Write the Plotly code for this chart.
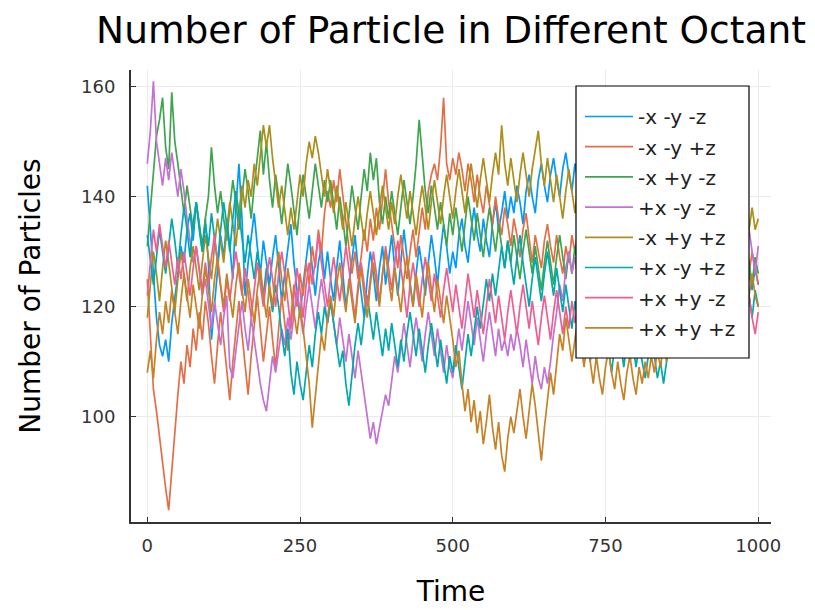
import numpy as np
import plotly.graph_objects as go

# Particle counts per octant, sampled every 5 time steps (t = 0 .. 1000)
time = np.arange(0, 1001, 5)

mxmymz = [142, 134, 126, 118, 113, 111, 114, 110, 117, 121, 126, 131, 128, 134, 137, 132, 139, 135, 130, 136,
          128, 114, 120, 127, 133, 129, 136, 131, 125, 138, 146, 136, 122, 128, 133, 137, 131, 126, 132, 128,
          124, 129, 133, 127, 121, 126, 131, 135, 128, 123, 118, 124, 129, 133, 127, 122, 128, 131, 125, 130,
          125, 121, 127, 132, 126, 120, 124, 129, 133, 127, 122, 118, 125, 130, 126, 121, 127, 131, 124, 129,
          133, 127, 122, 128, 134, 129, 124, 120, 126, 131, 127, 122, 128, 133, 129, 124, 130, 135, 131, 126,
          130, 127, 133, 136, 131, 128, 134, 138, 133, 130, 136, 132, 129, 135, 139, 134, 137, 141, 136, 140,
          137, 142, 139, 135, 141, 144, 140, 137, 143, 146, 142, 139, 144, 147, 143, 140, 145, 148, 144, 141,
          146, 143, 139, 144, 141, 137, 140, 136, 132, 135, 131, 128, 132, 127, 124, 128, 125, 121, 125, 122,
          119, 123, 120, 116, 120, 124, 119, 115, 118, 122, 118, 114, 117, 121, 117, 113, 116, 120, 116, 113,
          117, 114, 111, 115, 112, 116, 119, 115, 118, 122, 119, 123, 120, 124, 121, 125, 122, 126, 123, 127,
          124]

mxmypz = [125, 114, 105, 101, 96, 91, 87, 83, 90, 98, 104, 110, 106, 113, 109, 116, 112, 119, 114, 121,
          117, 111, 106, 113, 119, 114, 108, 103, 110, 116, 121, 115, 109, 104, 111, 117, 122, 116, 110, 115,
          120, 114, 109, 116, 122, 117, 112, 118, 124, 120, 126, 122, 128, 124, 131, 127, 134, 130, 137, 141,
          138, 143, 139, 145, 140, 135, 131, 126, 130, 125, 129, 134, 130, 136, 132, 138, 134, 140, 145, 139,
          135, 131, 127, 133, 129, 125, 130, 134, 129, 133, 138, 134, 141, 144, 146, 143, 149, 158, 146, 143,
          147, 144, 148, 145, 141, 146, 143, 139, 144, 140, 137, 142, 138, 135, 140, 136, 133, 138, 135, 131,
          136, 133, 129, 134, 137, 132, 128, 133, 130, 127, 132, 135, 131, 128, 133, 129, 126, 131, 128, 133,
          130, 134, 131, 128, 132, 136, 133, 129, 134, 131, 127, 131, 135, 132, 128, 132, 129, 133, 130, 126,
          130, 127, 131, 134, 130, 126, 129, 133, 130, 126, 130, 127, 123, 127, 131, 128, 124, 128, 125, 129,
          126, 122, 126, 130, 127, 123, 127, 131, 128, 124, 128, 125, 121, 125, 129, 126, 122, 126, 130, 127,
          124]

mxpymz = [131, 138, 145, 151, 154, 158, 149, 145, 159, 150, 146, 141, 137, 142, 138, 134, 139, 135, 131, 136,
          140, 149, 142, 137, 141, 136, 132, 138, 143, 139, 134, 140, 145, 141, 136, 142, 147, 152, 144, 150,
          143, 138, 144, 140, 135, 141, 146, 142, 137, 133, 139, 144, 140, 136, 141, 146, 142, 138, 143, 139,
          143, 138, 134, 140, 136, 131, 137, 142, 138, 134, 140, 145, 141, 148, 143, 147, 139, 135, 140, 136,
          141, 137, 133, 138, 143, 139, 135, 140, 146, 154, 147, 141, 137, 142, 138, 134, 139, 135, 131, 137,
          133, 138, 134, 130, 135, 140, 136, 132, 137, 133, 129, 134, 138, 134, 130, 135, 131, 127, 132, 128,
          133, 129, 125, 130, 134, 130, 126, 131, 127, 123, 128, 132, 128, 124, 129, 133, 129, 125, 130, 126,
          131, 127, 132, 128, 124, 129, 133, 129, 125, 130, 134, 130, 126, 131, 127, 123, 128, 132, 128, 124,
          129, 133, 129, 125, 130, 126, 131, 135, 131, 127, 132, 128, 124, 129, 133, 129, 125, 130, 134, 130,
          126, 131, 127, 123, 128, 132, 128, 124, 129, 125, 130, 134, 130, 126, 131, 127, 132, 128, 124, 129,
          126]

pxmymz = [146, 152, 161, 150, 146, 142, 147, 143, 148, 144, 140, 145, 141, 136, 132, 128, 131, 126, 122, 125,
          120, 116, 121, 117, 113, 118, 122, 109, 107, 112, 117, 121, 116, 112, 118, 114, 110, 106, 103, 101,
          106, 111, 108, 112, 116, 113, 118, 114, 119, 123, 119, 115, 120, 124, 120, 116, 121, 125, 121, 117,
          121, 117, 113, 118, 114, 110, 115, 111, 107, 112, 108, 104, 100, 96, 99, 95, 98, 101, 104, 102,
          107, 111, 108, 113, 117, 113, 109, 114, 118, 114, 110, 115, 119, 115, 111, 116, 112, 108, 113, 109,
          107, 112, 116, 112, 117, 121, 117, 113, 118, 114, 110, 115, 119, 115, 111, 116, 112, 114, 111, 115,
          112, 116, 113, 109, 114, 110, 106, 111, 107, 105, 109, 106, 110, 115, 119, 124, 121, 127, 130, 126,
          129, 125, 130, 126, 122, 127, 131, 127, 123, 128, 124, 129, 133, 129, 125, 130, 126, 122, 127, 131,
          127, 123, 128, 132, 128, 124, 129, 125, 130, 134, 130, 126, 131, 127, 123, 128, 132, 128, 124, 129,
          133, 129, 125, 130, 126, 131, 135, 131, 127, 132, 128, 124, 129, 133, 129, 125, 130, 134, 130, 126,
          131]

mxpypz = [118, 124, 130, 126, 121, 127, 132, 128, 123, 119, 125, 130, 126, 121, 127, 131, 127, 123, 128, 133,
          129, 125, 131, 136, 132, 128, 134, 139, 135, 131, 137, 142, 138, 143, 140, 146, 142, 148, 153, 149,
          153, 147, 143, 138, 142, 137, 133, 138, 134, 139, 144, 140, 146, 150, 147, 151, 148, 144, 140, 145,
          141, 137, 142, 138, 134, 139, 135, 131, 136, 140, 136, 132, 137, 141, 137, 133, 138, 142, 138, 134,
          139, 135, 140, 144, 140, 136, 141, 137, 133, 138, 142, 138, 134, 139, 143, 139, 135, 140, 144, 140,
          136, 141, 145, 141, 137, 142, 146, 142, 138, 143, 147, 143, 139, 144, 148, 144, 153, 146, 142, 147,
          143, 139, 144, 148, 144, 140, 145, 149, 152, 146, 142, 147, 143, 139, 144, 140, 136, 141, 145, 141,
          137, 142, 138, 134, 139, 143, 139, 135, 140, 136, 132, 137, 141, 137, 133, 138, 134, 130, 135, 139,
          135, 131, 136, 140, 136, 132, 137, 133, 129, 134, 138, 134, 130, 135, 139, 135, 131, 136, 132, 128,
          133, 137, 133, 129, 134, 130, 135, 139, 135, 131, 136, 132, 128, 133, 137, 133, 129, 134, 138, 134,
          136]

pxmypz = [133, 128, 124, 129, 134, 130, 126, 131, 136, 132, 127, 133, 138, 134, 129, 135, 139, 134, 130, 135,
          131, 137, 133, 128, 134, 139, 135, 130, 136, 141, 137, 132, 128, 133, 129, 125, 130, 126, 122, 127,
          123, 119, 124, 120, 115, 111, 116, 108, 104, 110, 106, 103, 108, 113, 109, 115, 119, 115, 120, 117,
          121, 117, 113, 109, 112, 106, 102, 108, 113, 117, 113, 118, 122, 118, 114, 119, 115, 111, 116, 112,
          117, 113, 109, 114, 110, 115, 119, 115, 111, 116, 112, 108, 113, 117, 113, 109, 114, 110, 106, 111,
          108, 113, 109, 105, 110, 115, 111, 116, 120, 116, 121, 125, 121, 126, 122, 127, 131, 127, 132, 128,
          124, 129, 133, 128, 124, 120, 125, 129, 125, 121, 126, 130, 126, 122, 127, 123, 119, 124, 120, 116,
          121, 117, 113, 118, 114, 110, 115, 119, 115, 111, 116, 112, 108, 113, 117, 113, 109, 114, 110, 113,
          109, 113, 110, 107, 111, 115, 111, 107, 110, 106, 110, 114, 118, 114, 119, 123, 119, 124, 120, 125,
          121, 126, 122, 118, 123, 127, 123, 119, 124, 128, 124, 120, 125, 121, 117, 122, 126, 122, 118, 123,
          120]

pxpymz = [122, 128, 134, 130, 135, 131, 127, 132, 128, 124, 129, 125, 130, 126, 122, 127, 131, 127, 123, 128,
          124, 129, 133, 128, 124, 119, 125, 121, 126, 130, 126, 122, 127, 123, 118, 123, 128, 124, 120, 125,
          129, 125, 120, 126, 130, 126, 121, 116, 122, 127, 123, 118, 124, 128, 124, 129, 133, 128, 124, 120,
          125, 129, 125, 121, 126, 131, 127, 122, 118, 124, 128, 124, 120, 125, 130, 126, 121, 126, 131, 127,
          123, 128, 132, 127, 123, 118, 124, 128, 124, 120, 125, 129, 125, 121, 126, 122, 118, 123, 127, 123,
          119, 124, 120, 116, 121, 126, 122, 118, 123, 119, 115, 120, 125, 121, 117, 122, 118, 114, 119, 123,
          119, 115, 120, 124, 120, 116, 121, 117, 113, 118, 122, 118, 114, 119, 123, 119, 115, 120, 116, 121,
          117, 121, 117, 113, 118, 122, 118, 114, 119, 115, 120, 124, 120, 116, 121, 117, 113, 118, 122, 118,
          114, 119, 123, 119, 115, 120, 116, 121, 125, 121, 117, 122, 118, 114, 119, 123, 119, 115, 120, 116,
          121, 117, 113, 118, 122, 118, 114, 119, 123, 119, 115, 120, 116, 121, 117, 113, 118, 122, 118, 115,
          119]

pxpypz = [108, 112, 107, 114, 119, 115, 121, 117, 123, 119, 115, 121, 126, 122, 118, 124, 120, 116, 122, 127,
          123, 119, 125, 129, 124, 120, 126, 122, 118, 124, 128, 123, 119, 125, 121, 117, 123, 127, 122, 118,
          124, 120, 126, 130, 125, 121, 127, 123, 119, 115, 120, 116, 111, 106, 98, 104, 110, 115, 112, 118,
          122, 118, 124, 128, 123, 119, 125, 121, 117, 123, 127, 122, 118, 124, 128, 124, 120, 126, 130, 125,
          121, 127, 123, 119, 125, 129, 124, 120, 126, 122, 118, 124, 128, 123, 119, 125, 121, 117, 122, 118,
          114, 109, 112, 106, 101, 105, 99, 103, 97, 101, 95, 99, 104, 98, 94, 99, 93, 90, 96, 100,
          97, 101, 105, 100, 96, 101, 106, 102, 97, 92, 98, 103, 108, 104, 110, 115, 112, 118, 114, 110,
          114, 118, 113, 109, 114, 110, 106, 111, 107, 104, 109, 112, 108, 105, 110, 106, 103, 108, 111, 107,
          104, 109, 106, 110, 107, 111, 108, 112, 109, 113, 110, 115, 119, 115, 120, 124, 120, 116, 121, 125,
          121, 117, 122, 126, 122, 118, 123, 127, 123, 119, 124, 128, 124, 120, 125, 121, 117, 122, 126, 122,
          120]

labels = ["-x -y -z", "-x -y +z", "-x +y -z", "+x -y -z",
          "-x +y +z", "+x -y +z", "+x +y -z", "+x +y +z"]
series = [mxmymz, mxmypz, mxpymz, pxmymz, mxpypz, pxmypz, pxpymz, pxpypz]
colors = ["#009AFA", "#E36F47", "#3EA44E", "#C371D2",
          "#AC8E18", "#00A9AD", "#ED5E93", "#C68225"]

FONT = "DejaVu Sans, Verdana, sans-serif"

# plot area in pixels (left, right, top, bottom) of the 815x610 canvas
L, R, T, B = 131, 771, 70, 522
W, H = R - L, B - T


def px_x(p):
    return (p - L) / W


def px_y(p):
    return (B - p) / H


fig = go.Figure()
for name, vals, col in zip(labels, series, colors):
    fig.add_trace(go.Scatter(
        x=time, y=vals, mode="lines", name=name,
        line=dict(color=col, width=1.7),
        legendgroup=name,
    ))

axis_common = dict(
    showgrid=True, gridcolor="#ebebeb", gridwidth=1,
    zeroline=False, automargin=False,
    showline=True, linecolor="#333333", linewidth=2,
    ticks="inside", ticklen=5, tickcolor="#333333", tickwidth=1,
    tickfont=dict(family=FONT, size=18, color="#333333"),
    mirror=False,
)

# white legend frame, drawn over the data
fig.add_shape(type="rect", xref="paper", yref="paper",
              x0=px_x(576), x1=px_x(749), y0=px_y(358), y1=px_y(86),
              fillcolor="white", line=dict(color="black", width=1.2),
              layer="above")

fig.update_layout(
    width=815, height=610,
    paper_bgcolor="white", plot_bgcolor="white",
    margin=dict(l=L, r=815 - R, t=T, b=610 - B),
    title=dict(text="Number of Particle in Different Octant",
               font=dict(family=FONT, size=37.5, color="black"),
               x=(L + R) / 2 / 815, xanchor="center",
               y=1 - 30 / 610, yanchor="middle", yref="container"),
    xaxis=dict(range=[-26.7, 1020.9], tickvals=[0, 250, 500, 750, 1000],
               ticklabelstandoff=6,
               title=dict(text="Time", font=dict(family=FONT, size=28, color="black"),
                          standoff=27),
               **axis_common),
    yaxis=dict(range=[80.85, 163.04], tickvals=[100, 120, 140, 160],
               ticklabelstandoff=10,
               title=dict(text="Number of Particles",
                          font=dict(family=FONT, size=28, color="black"),
                          standoff=32),
               **axis_common),
    legend=dict(x=px_x(580), y=px_y(97),
                xanchor="left", yanchor="top",
                bgcolor="rgba(0,0,0,0)", borderwidth=0,
                font=dict(family=FONT, size=20, color="#222222"),
                tracegroupgap=1.2, itemwidth=48),
    showlegend=True,
)

fig.write_html("out.html")
